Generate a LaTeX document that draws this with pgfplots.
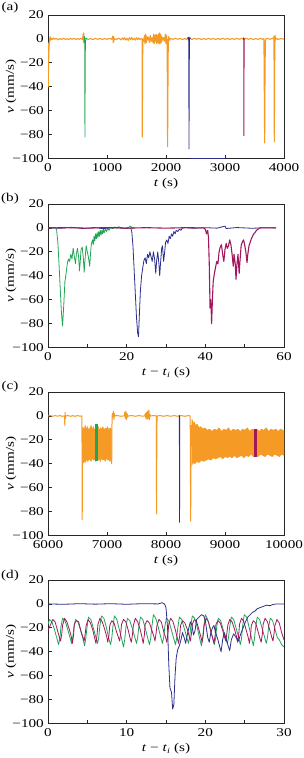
\documentclass[border=0pt]{standalone}
\usepackage{fontspec}
\setmainfont{Liberation Serif}[FakeStretch=1.27]
\usepackage{pgfplots}
\pgfplotsset{compat=1.18}
\definecolor{cor}{HTML}{F49A25}
\definecolor{cgr}{HTML}{22A455}
\definecolor{cbl}{HTML}{2B2E8C}
\definecolor{cmg}{HTML}{A3175E}
\pgfplotsset{
 myax/.style={
  scale only axis, width=236bp, height=143.5bp,
  anchor=north west,
  ymin=-100, ymax=20,
  ytick={-100,-80,-60,-40,-20,0,20},
  yticklabels={−100,−80,−60,−40,−20,0,20},
  tick pos=left, tick align=inside,
  major tick length=4bp, minor tick length=4bp,
  axis line style={line width=0.9bp, black!85},
  tick style={black!85, line width=0.8bp},
  scaled x ticks=false,
  /pgf/number format/assume math mode=true,
  /pgf/number format/1000 sep={},
  tick label style={font=\fontsize{12}{14}\selectfont},
  xticklabel style={yshift=-1bp},
  label style={font=\fontsize{12}{14}\selectfont},
  ylabel={\textit{v} (mm/s)},
  every axis y label/.style={at={([xshift=-37bp]rel axis cs:0,0.5)}, rotate=90, anchor=center},
  every axis x label/.style={at={([yshift=-25bp]rel axis cs:0.5,0)}, anchor=center},
 },
 dl/.style={line width=0.8bp, line join=round},
}
\begin{document}
\begin{tikzpicture}
\useasboundingbox (0,0) rectangle (304bp,-758bp);
\fontsize{12}{14}\selectfont
% ---------------- (a)
\begin{axis}[myax, at={(48bp,-15bp)}, xmin=0, xmax=4000, xtick={0,1000,2000,3000,4000}, xlabel={\textit{t} (s)}]
\addplot[dl, cor, line width=1.1bp] coordinates {
(0,-3)(4,-40)(8,-25)(14,-12)(20,-4)(28,-1)(36,2)(44,-1)(55,0.5)(70,-0.5)(90,0.8)(110,-0.3)(140,0.5)(170,-0.8)(200,0.3)(230,-0.5)(260,0.6)(290,-0.4)(320,0.2)(350,-0.6)(380,0.4)(410,-0.3)(440,0.5)(470,-0.5)(500,0.3)(530,-0.4)(560,0.6)(585,-0.5)(595,4)(600,-3)(605,5)(610,-1)(615,0)
(640,0.4)(680,-0.5)(720,0.3)(760,-0.6)(800,0.5)(840,-0.3)(880,0.4)(920,-0.5)(960,0.3)(1000,-0.4)(1040,0.5)(1080,-0.3)(1100,2.5)(1105,-3)(1110,2)(1115,-2.5)(1120,0.3)(1160,-0.5)(1200,0.6)(1240,-0.8)(1260,0.8)(1280,-0.5)(1300,1)(1320,-1)(1340,0.5)(1360,-1.2)(1380,1)(1400,-0.6)(1420,1.2)(1440,-0.8)(1460,0.5)(1480,-1)(1500,1)(1520,-0.7)(1540,0.8)(1560,-0.5)(1580,0.3)(1595,0)
(1598,-82)(1602,-40)(1606,-5)(1610,0)(1625,-2)(1635,3)(1645,-4)(1655,4)(1665,-3)(1675,2)(1690,-1)(1705,1.5)(1720,-3)(1735,3)(1750,-2)(1765,1)(1780,-3)(1790,4)(1800,-4)(1810,3)(1820,-2)(1830,4)(1840,-4)(1850,3)(1860,-3)(1870,4)(1880,-4)(1890,5)(1900,-4)(1910,4)(1920,-3)(1930,2)(1945,-1)(1960,1)(1975,-2)(1990,4)(2000,-4)(2010,3)(2020,-2)
(2027,-90)(2033,-40)(2038,-6)(2045,2)(2060,-1)(2080,0.5)(2120,-0.4)(2160,0.5)(2200,-0.3)(2240,0.4)(2280,-0.5)(2320,0.3)(2350,-0.4)(2370,1)(2385,-1)(2400,0.5)(2440,-0.4)(2480,0.5)(2520,-0.3)(2560,0.4)(2600,-0.5)(2640,0.3)(2680,-0.4)(2720,0.5)(2760,-0.3)(2800,0.4)(2840,-0.5)(2880,0.3)(2920,-0.4)(2960,0.5)(3000,-0.3)(3040,0.4)(3080,-0.5)(3120,0.3)(3160,-0.4)(3200,0.5)(3240,-0.3)(3280,0.4)(3320,-0.4)(3360,0.5)(3400,-0.3)(3440,0.4)(3480,-0.5)(3520,0.3)(3560,-0.4)(3600,0.5)(3640,-0.3)(3660,0.3)
(3672,-87)(3678,-30)(3684,-3)(3690,0)(3720,0.4)(3760,-0.3)(3800,0.4)(3820,0.3)(3830,2)(3836,-86)(3842,-20)(3848,3)(3855,-1)(3870,0.5)(3900,-0.4)(3950,0.3)(4000,-0.2)
};
\addplot[dl, cgr] coordinates {(612,0)(618,2)(622,-5)(626,-82)(630,-30)(634,-3)(640,0)(650,0.5)(660,0)};
\addplot[dl, cbl] coordinates {(2370,0)(2380,1.5)(2385,-2)(2390,-92)(2394,-30)(2398,0)(2405,1.5)(2410,0)};
\addplot[dl, cbl] coordinates {(2410,-99.6)(2995,-99.6)};
\addplot[dl, cmg] coordinates {(3310,0)(3316,1)(3320,-81)(3324,-20)(3328,0)(3335,0)};
\end{axis}
% ---------------- (b)
\begin{axis}[myax, at={(48bp,-204bp)}, xmin=0, xmax=60, xtick={0,20,40,60}, minor x tick num=1, xlabel={\textit{t} − \textit{t}\textsubscript{\textit{i}} (s)}]
\addplot[dl, cgr] coordinates {
(0,0)(0.5,0.3)(1.0,-0.2)(1.5,0.3)(2.0,0)(2.2,-2)(2.5,-12)(2.8,-30)(3.1,-50)(3.4,-70)(3.7,-82)(4.0,-65)(4.3,-45)(4.6,-38)(4.9,-30)(5.2,-26)(5.5,-28)(5.8,-22)(6.1,-26)(6.4,-17)(6.7,-24)(7.0,-30)(7.2,-22)(7.5,-17)(7.8,-25)(8.0,-36)(8.2,-28)(8.4,-18)(8.7,-16)(9.0,-26)(9.2,-37)(9.4,-27)(9.7,-15)(10.0,-20)(10.3,-25)(10.6,-32)(10.8,-22)(11.0,-14)(11.3,-10)(11.5,-14)(11.7,-7)(11.9,-11)(12.1,-5)(12.3,-9)(12.5,-4)(12.7,-8)(12.9,-3)(13.1,-7)(13.3,-2)(13.5,-6)(13.7,-2)(13.9,-5)(14.1,-1)(14.3,-4)(14.6,-1)(14.9,-3)(15.2,0)(15.5,-2)(15.8,0)(16.5,-0.5)(17.0,0.5)(17.5,-0.3)(18.0,1)(18.5,0)(19.5,-0.3)(20.5,0.5)(21.0,1.5)(21.5,-0.5)(22.0,0.5)
};
\addplot[dl, cbl] coordinates {
(0,0.3)(3,-0.3)(6,0.5)(9,-0.5)(12,0.3)(14,-0.6)(17,0.5)(20,-0.4)(21.0,0)(21.3,-3)(21.6,-15)(21.9,-35)(22.2,-55)(22.5,-75)(22.8,-88)(23.0,-91)(23.2,-75)(23.5,-52)(23.8,-40)(24.1,-33)(24.4,-27)(24.7,-25)(25.0,-30)(25.3,-22)(25.6,-25)(25.9,-20)(26.2,-24)(26.5,-28)(26.8,-20)(27.1,-26)(27.4,-38)(27.6,-28)(27.9,-20)(28.2,-30)(28.4,-40)(28.6,-30)(28.9,-17)(29.1,-15)(29.4,-28)(29.6,-22)(29.9,-12)(30.2,-10)(30.5,-13)(30.8,-7)(31.1,-9)(31.4,-5)(31.7,-7)(32.0,-3)(32.3,-5)(32.6,-2)(33.0,-3)(33.4,-1)(33.8,-2)(34.2,0)(35,0.3)(37,-0.3)(40,0.2)(43,-0.2)(45,1.5)(45.3,-0.5)(48,0.3)(52,-0.3)(55,0.2)(58,0)
};
\addplot[dl, cmg, line width=1.1bp] coordinates {
(0,0)(5,0.2)(10,-0.2)(15,0.3)(20,-0.2)(25,0.2)(30,-0.2)(35,0.2)(39.5,0)(40.0,-1)(40.3,-5)(40.6,-2)(40.8,-8)(41.0,-30)(41.2,-67)(41.4,-60)(41.6,-80)(41.8,-60)(42.0,-45)(42.3,-38)(42.6,-33)(42.9,-28)(43.2,-30)(43.5,-20)(43.8,-16)(44.1,-14)(44.4,-22)(44.7,-28)(45.0,-18)(45.3,-13)(45.6,-17)(45.9,-15)(46.2,-10)(46.5,-14)(46.8,-22)(47.1,-32)(47.3,-22)(47.6,-30)(47.8,-43)(48.0,-32)(48.3,-22)(48.6,-38)(48.8,-28)(49.1,-15)(49.4,-12)(49.7,-10)(50.0,-14)(50.3,-20)(50.6,-29)(50.8,-22)(51.1,-15)(51.4,-12)(51.7,-9)(52.0,-7)(52.3,-5)(52.6,-4)(53.0,-2)(53.4,-1)(53.9,0)(55,0)(58,0)
};
\end{axis}
% ---------------- (c)
\begin{axis}[myax, at={(48bp,-392bp)}, xmin=6000, xmax=10000, xtick={6000,7000,8000,9000,10000}, xlabel={\textit{t} (s)}]
\addplot[fill=cor, draw=cor, line width=0.5bp] coordinates {
(6590,-9)(6610,-12)(6630,-8)(6650,-11)(6670,-9)(6690,-12)(6710,-10)(6730,-8)(6750,-11)(6770,-9)(6790,-12)(6810,-10)(6830,-11)(6850,-9)(6870,-12)(6890,-10)(6910,-11)(6930,-9)(6950,-12)(6970,-10)(6990,-11)(7010,-9)(7030,-12)(7050,-10)(7075,-11)
(7075,-36)(7050,-38)(7030,-36)(7010,-37)(6990,-35)(6970,-38)(6950,-36)(6930,-37)(6910,-35)(6890,-38)(6870,-36)(6850,-37)(6830,-36)(6810,-38)(6790,-36)(6770,-37)(6750,-35)(6730,-38)(6710,-36)(6690,-37)(6670,-38)(6650,-36)(6630,-39)(6610,-38)(6590,-40)
};
\addplot[fill=cor, draw=cor, line width=0.5bp] coordinates {
(8440,-3)(8460,-6)(8480,-5)(8500,-8)(8530,-7)(8560,-10)(8590,-9)(8620,-11)(8660,-10)(8700,-12)(8740,-11)(8780,-13)(8820,-11)(8860,-12)(8900,-10)(8940,-13)(8980,-11)(9020,-12)(9060,-10)(9100,-13)(9140,-11)(9180,-12)(9220,-11)(9260,-13)(9300,-11)(9340,-12)(9380,-10)(9420,-13)(9460,-11)(9500,-12)(9540,-11)(9580,-13)(9620,-11)(9660,-12)(9700,-10)(9740,-13)(9780,-11)(9820,-12)(9860,-11)(9900,-13)(9940,-11)(9980,-12)(10000,-12)
(10000,-33)(9960,-32)(9920,-34)(9880,-33)(9840,-32)(9800,-34)(9760,-33)(9720,-32)(9680,-34)(9640,-33)(9600,-32)(9560,-34)(9520,-33)(9480,-34)(9440,-32)(9400,-34)(9360,-33)(9320,-35)(9280,-33)(9240,-34)(9200,-35)(9160,-33)(9120,-35)(9080,-34)(9040,-35)(9000,-34)(8960,-36)(8920,-34)(8880,-35)(8840,-36)(8800,-35)(8760,-37)(8720,-36)(8680,-37)(8640,-38)(8600,-37)(8560,-39)(8520,-38)(8490,-40)(8460,-39)(8440,-41)
};
\addplot[dl, cor, line width=1bp] coordinates {
(6000,0)(6040,0.3)(6080,-0.3)(6120,0.3)(6160,-0.2)(6200,0.3)(6240,-0.3)(6280,0)(6285,-8)(6290,3)(6295,-2)(6300,0)(6340,0.3)(6380,-0.3)(6420,0.2)(6460,-0.3)(6500,0.3)(6540,-0.2)(6575,0)(6580,-87)(6585,-20)(6590,-10)
};
\addplot[dl, cor, line width=1bp] coordinates {
(7070,-36)(7075,-38)(7080,-40)(7085,-5)(7090,2)(7100,-1)(7110,4)(7118,-3)(7125,2)(7135,0)(7180,0.3)(7230,-0.3)(7290,0)(7300,3)(7310,-2)(7320,4)(7330,-3)(7340,2)(7350,-1)(7360,0)(7420,0.3)(7480,-0.3)(7540,0.3)(7600,-0.2)(7640,0)(7650,2)(7660,-2)(7670,3)(7680,-3)(7690,4)(7700,-2)(7710,5)(7720,-3)(7730,1)(7740,0)(7790,0.3)(7835,0)(7840,-82)(7845,-10)(7850,0)(7900,0.3)(7960,-0.3)(8020,0.3)(8080,-0.3)(8140,0.3)(8200,-0.3)(8260,0.3)(8320,-0.3)(8380,0.3)(8410,0)(8418,-88)(8424,-40)(8430,-8)(8438,-25)(8442,-3)
};
\addplot[fill=cgr, draw=cgr, line width=0.5bp] coordinates {(6800,-7)(6840,-7)(6840,-37)(6800,-37)};
\addplot[dl, cbl] coordinates {(8222,0)(8226,0.5)(8230,-89)(8234,0)};
\addplot[fill=cmg, draw=cmg, line width=0.5bp] coordinates {(9495,-11)(9535,-11)(9535,-34)(9495,-34)};
\end{axis}
% ---------------- (d)
\begin{axis}[myax, at={(48bp,-580bp)}, xmin=0, xmax=30, xtick={0,10,20,30}, minor x tick num=1, xlabel={\textit{t} − \textit{t}\textsubscript{\textit{i}} (s)}]
\addplot[dl, cgr] coordinates {
(0,-17)(0.2,-13)(0.5,-15)(0.8,-21)(1.1,-28)(1.35,-34)(1.5,-29)(1.65,-19)
(1.85,-12)(2.15,-14)(2.45,-20)(2.75,-27)(3.0,-33)(3.15,-28)(3.3,-19)
(3.5,-13)(3.8,-15)(4.1,-21)(4.4,-28)(4.65,-35)(4.8,-29)(4.95,-20)
(5.15,-11)(5.45,-13)(5.75,-20)(6.05,-27)(6.3,-33)(6.45,-28)(6.6,-18)
(6.8,-10)(7.1,-12)(7.4,-19)(7.7,-28)(7.95,-34)(8.1,-29)(8.25,-19)
(8.45,-10)(8.75,-13)(9.05,-21)(9.35,-29)(9.6,-36)(9.75,-30)(9.9,-20)
(10.1,-12)(10.4,-14)(10.7,-20)(11.0,-27)(11.25,-33)(11.4,-28)(11.55,-19)
(11.75,-11)(12.05,-13)(12.35,-20)(12.65,-28)(12.9,-34)(13.05,-29)(13.2,-19)
(13.4,-9)(13.7,-12)(14.0,-19)(14.3,-27)(14.55,-33)(14.7,-28)(14.85,-19)
(15.05,-12)(15.35,-14)(15.65,-21)(15.95,-28)(16.2,-34)(16.35,-29)(16.5,-20)
(16.7,-11)(17.0,-13)(17.3,-20)(17.6,-27)(17.85,-33)(18.0,-28)(18.15,-18)
(18.35,-10)(18.65,-12)(18.95,-19)(19.25,-28)(19.5,-35)(19.65,-29)(19.8,-19)
(20.0,-9)(20.3,-13)(20.6,-20)(20.9,-28)(21.15,-34)(21.3,-29)(21.45,-19)
(21.65,-12)(21.95,-14)(22.25,-21)(22.55,-28)(22.8,-33)(22.95,-28)(23.1,-19)
(23.3,-11)(23.6,-13)(23.9,-20)(24.2,-27)(24.45,-34)(24.6,-29)(24.75,-18)
(24.95,-9)(25.25,-11)(25.55,-19)(25.85,-28)(26.1,-35)(26.25,-29)(26.4,-19)
(26.6,-11)(26.9,-13)(27.2,-20)(27.5,-27)(27.75,-33)(27.9,-28)(28.05,-19)
(28.25,-12)(28.55,-14)(28.85,-21)(29.15,-28)(29.4,-30)(29.7,-34)(30,-36)
};
\addplot[dl, cmg] coordinates {
(0,-22)(0.35,-17)(0.6,-13)(0.9,-15)(1.2,-22)(1.45,-28)(1.6,-31)(1.75,-25)
(1.85,-18)(2.1,-12)(2.4,-15)(2.7,-21)(2.95,-27)(3.1,-33)(3.25,-26)
(3.35,-17)(3.6,-14)(3.9,-15)(4.2,-23)(4.45,-28)(4.6,-31)(4.75,-24)
(4.85,-18)(5.1,-13)(5.4,-16)(5.7,-22)(5.95,-29)(6.1,-33)(6.25,-25)
(6.35,-17)(6.6,-12)(6.9,-15)(7.2,-21)(7.45,-27)(7.6,-32)(7.75,-26)
(7.85,-18)(8.1,-14)(8.4,-16)(8.7,-23)(8.95,-28)(9.1,-31)(9.25,-24)
(9.35,-17)(9.6,-13)(9.9,-15)(10.2,-22)(10.45,-29)(10.6,-32)(10.75,-25)
(10.85,-18)(11.1,-12)(11.4,-15)(11.7,-21)(11.95,-28)(12.1,-33)(12.25,-26)
(12.35,-17)(12.6,-14)(12.9,-16)(13.2,-22)(13.45,-27)(13.6,-31)(13.75,-24)
(13.85,-18)(14.1,-13)(14.4,-15)(14.7,-23)(14.95,-28)(15.1,-32)(15.25,-25)
(15.35,-17)(15.6,-12)(15.9,-15)(16.2,-22)(16.45,-29)(16.6,-33)(16.75,-26)
(16.85,-18)(17.1,-14)(17.4,-16)(17.7,-21)(17.95,-27)(18.1,-31)(18.25,-24)
(18.35,-17)(18.6,-13)(18.9,-15)(19.2,-22)(19.45,-28)(19.6,-32)(19.75,-25)
(19.85,-18)(20.1,-12)(20.4,-15)(20.7,-23)(20.95,-29)(21.1,-33)(21.25,-26)
(21.35,-17)(21.6,-14)(21.9,-16)(22.2,-22)(22.45,-28)(22.6,-31)(22.75,-24)
(22.85,-18)(23.1,-13)(23.4,-15)(23.7,-21)(23.95,-27)(24.1,-32)(24.25,-25)
(24.35,-17)(24.6,-12)(24.9,-15)(25.2,-22)(25.45,-28)(25.6,-33)(25.75,-26)
(25.85,-18)(26.1,-14)(26.4,-16)(26.7,-23)(26.95,-29)(27.1,-32)(27.25,-25)
(27.35,-17)(27.6,-12)(27.9,-15)(28.2,-22)(28.45,-28)(28.6,-31)(28.75,-24)
(28.85,-18)(29.1,-13)(29.4,-16)(29.7,-24)(30.0,-30)
};
\addplot[dl, cbl] coordinates {
(0,0)(2,-0.3)(4,0.2)(6,-0.2)(8,0.2)(10,-0.3)(12,0.2)(14,0)(14.5,1)(14.8,0)(15.0,-3)(15.2,-20)(15.35,-50)(15.5,-70)(15.7,-74)(15.85,-88)(16.0,-84)(16.15,-60)(16.3,-45)(16.5,-38)(16.7,-35)(16.9,-30)(17.1,-24)(17.3,-28)(17.5,-33)(17.7,-26)(17.9,-20)(18.1,-15)(18.3,-18)(18.5,-26)(18.7,-22)(18.9,-13)(19.2,-11)(19.5,-9)(19.8,-10)(20.0,-14)(20.3,-28)(20.5,-32)(20.7,-24)(20.9,-20)(21.1,-18)(21.3,-24)(21.6,-30)(21.8,-35)(22.0,-40)(22.2,-30)(22.4,-24)(22.6,-28)(22.9,-35)(23.1,-39)(23.3,-30)(23.6,-25)(23.9,-28)(24.2,-31)(24.5,-25)(24.8,-20)(25.1,-15)(25.4,-11)(25.7,-9)(26.0,-7)(26.3,-6)(26.6,-4)(27.0,-3)(27.4,-2)(27.8,-1)(28.2,-1.5)(28.6,-0.5)(29.0,0)(30,0)
};
\end{axis}
\node[font=\fontsize{12}{14}\selectfont] at (10bp,-8bp) {(a)};
\node[font=\fontsize{12}{14}\selectfont] at (10bp,-199bp) {(b)};
\node[font=\fontsize{12}{14}\selectfont] at (10bp,-387bp) {(c)};
\node[font=\fontsize{12}{14}\selectfont] at (10bp,-576bp) {(d)};
\end{tikzpicture}
\end{document}
